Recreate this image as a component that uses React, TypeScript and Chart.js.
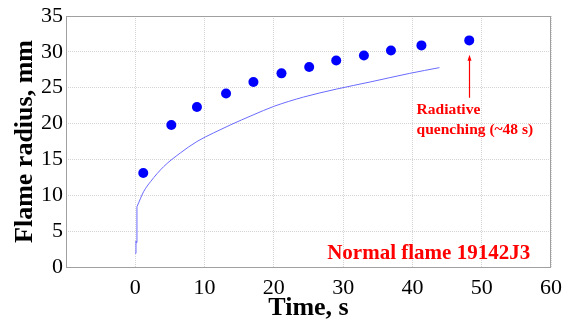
import React, { useEffect, useRef } from "react";
import { Chart, registerables } from "chart.js";

Chart.register(...registerables);

const xTicks = [-10, 0, 10, 20, 30, 40, 50, 60];
const yTicks = [0, 5, 10, 15, 20, 25, 30, 35];

const measuredTime = [1.15, 5.2, 8.9, 13.1, 17.05, 21.1, 25.1, 29.0, 33.0, 36.9, 41.3, 48.2];
const measuredRadius = [13.1, 19.8, 22.3, 24.2, 25.8, 27.0, 27.9, 28.8, 29.5, 30.2, 30.9, 31.6];

const ignitionTime = [0, 0.1, 0.15, 0.24];
const ignitionRadius = [1.9, 3.6, 3.4, 8.4];

const modelTime = [0.24, 1.2, 2.2, 4.1, 6.5, 8.9, 11.3, 13.7, 17.0, 20.0, 24.3, 29.0, 33.9, 39.6, 43.9];
const modelRadius = [8.4, 10.5, 11.9, 14.0, 15.9, 17.5, 18.7, 19.8, 21.2, 22.4, 23.7, 24.8, 25.8, 27.0, 27.8];

const flameLabel = "Normal flame 19142J3";
const quenchLines = ["Radiative", "quenching (~48 s)"];
const quenchTime = 48.2;

const SERIF = "'Liberation Serif', 'Times New Roman', serif";
const LINE_BLUE = "#6a6aff";

const annotationPlugin = {
  id: "annotations",
  afterDatasetsDraw(chart: any) {
    const { ctx, chartArea, scales } = chart;
    const x = scales.x;
    const y = scales.y;
    ctx.save();
    ctx.strokeStyle = "#a0a0a0";
    ctx.lineWidth = 1;
    ctx.strokeRect(
      Math.round(chartArea.left) + 0.5,
      Math.round(chartArea.top) + 0.5,
      Math.round(chartArea.right - chartArea.left) - 1,
      Math.round(chartArea.bottom - chartArea.top)
    );

    ctx.fillStyle = "#ff0000";
    ctx.strokeStyle = "#ff0000";
    ctx.textAlign = "left";
    ctx.textBaseline = "alphabetic";
    ctx.font = `bold 21px ${SERIF}`;
    ctx.fillText(flameLabel, x.getPixelForValue(27.7), y.getPixelForValue(1.1));

    ctx.font = `bold 15.5px ${SERIF}`;
    ctx.fillText(quenchLines[0], x.getPixelForValue(40.6), y.getPixelForValue(21.3));
    ctx.fillText(quenchLines[1], x.getPixelForValue(40.6), y.getPixelForValue(18.5));

    const ax = Math.round(x.getPixelForValue(quenchTime)) + 0.5;
    const y0 = y.getPixelForValue(23.6);
    const y1 = y.getPixelForValue(29.6);
    ctx.lineWidth = 1.2;
    ctx.beginPath();
    ctx.moveTo(ax, y0);
    ctx.lineTo(ax, y1 + 3);
    ctx.stroke();
    ctx.beginPath();
    ctx.moveTo(ax, y1);
    ctx.lineTo(ax - 2, y1 + 6);
    ctx.lineTo(ax + 2, y1 + 6);
    ctx.closePath();
    ctx.fill();
    ctx.restore();
  },
};

export default function App() {
  const ref = useRef<HTMLCanvasElement | null>(null);

  useEffect(() => {
    if (!ref.current) return;
    const chart = new Chart(ref.current, {
      type: "scatter",
      data: {
        datasets: [
          {
            type: "line",
            label: "ignition",
            data: ignitionTime.map((t, i) => ({ x: t, y: ignitionRadius[i] })),
            borderColor: LINE_BLUE,
            borderWidth: 1,
            pointRadius: 0,
            showLine: true,
            fill: false,
            tension: 0,
          } as any,
          {
            type: "line",
            label: "model",
            data: modelTime.map((t, i) => ({ x: t, y: modelRadius[i] })),
            borderColor: LINE_BLUE,
            borderWidth: 1,
            pointRadius: 0,
            showLine: true,
            fill: false,
            cubicInterpolationMode: "monotone",
          } as any,
          {
            type: "scatter",
            label: "measured",
            data: measuredTime.map((t, i) => ({ x: t, y: measuredRadius[i] })),
            backgroundColor: "#0000ff",
            borderColor: "#0000ff",
            pointRadius: 5,
            borderWidth: 0,
          },
        ],
      },
      options: {
        responsive: false,
        animation: false,
        layout: { padding: { top: 16, right: 14, left: 0, bottom: 0 } },
        plugins: { legend: { display: false }, tooltip: { enabled: false } },
        scales: {
          x: {
            type: "linear",
            min: -10,
            max: 60,
            afterBuildTicks: (s: any) => {
              s.ticks = xTicks.map((v) => ({ value: v }));
            },
            afterFit: (s: any) => {
              s.height = 64;
              s.paddingLeft = 0;
              s.paddingRight = 0;
            },
            ticks: {
              color: "#000",
              font: { family: SERIF, size: 22 },
              padding: 8,
              maxRotation: 0,
              callback: (v: any) => (v === -10 ? "" : String(v)),
            },
            grid: { color: "#d4d4d4", drawTicks: false, lineWidth: 1 },
            border: { display: false, dash: [1, 1] },
            title: {
              display: true,
              text: "Time, s",
              color: "#000",
              font: { family: SERIF, size: 26, weight: "bold" },
              padding: { top: 0, bottom: 7 },
            },
          },
          y: {
            type: "linear",
            min: 0,
            max: 35,
            afterBuildTicks: (s: any) => {
              s.ticks = yTicks.map((v) => ({ value: v }));
            },
            afterFit: (s: any) => {
              s.width = 66;
              s.paddingTop = 0;
              s.paddingBottom = 0;
            },
            ticks: {
              color: "#000",
              font: { family: SERIF, size: 22 },
              padding: 3,
            },
            grid: { color: "#d4d4d4", drawTicks: false, lineWidth: 1 },
            border: { display: false, dash: [1, 1] },
            title: {
              display: true,
              text: "Flame radius, mm",
              color: "#000",
              font: { family: SERIF, size: 26, weight: "bold" },
              padding: { top: 10, bottom: 0 },
            },
          },
        },
      },
      plugins: [annotationPlugin],
    });
    return () => chart.destroy();
  }, []);

  return (
    <div style={{ position: "absolute", left: 0, top: 0, width: 565, height: 331, background: "#fff" }}>
      <canvas ref={ref} width={565} height={331} />
    </div>
  );
}
